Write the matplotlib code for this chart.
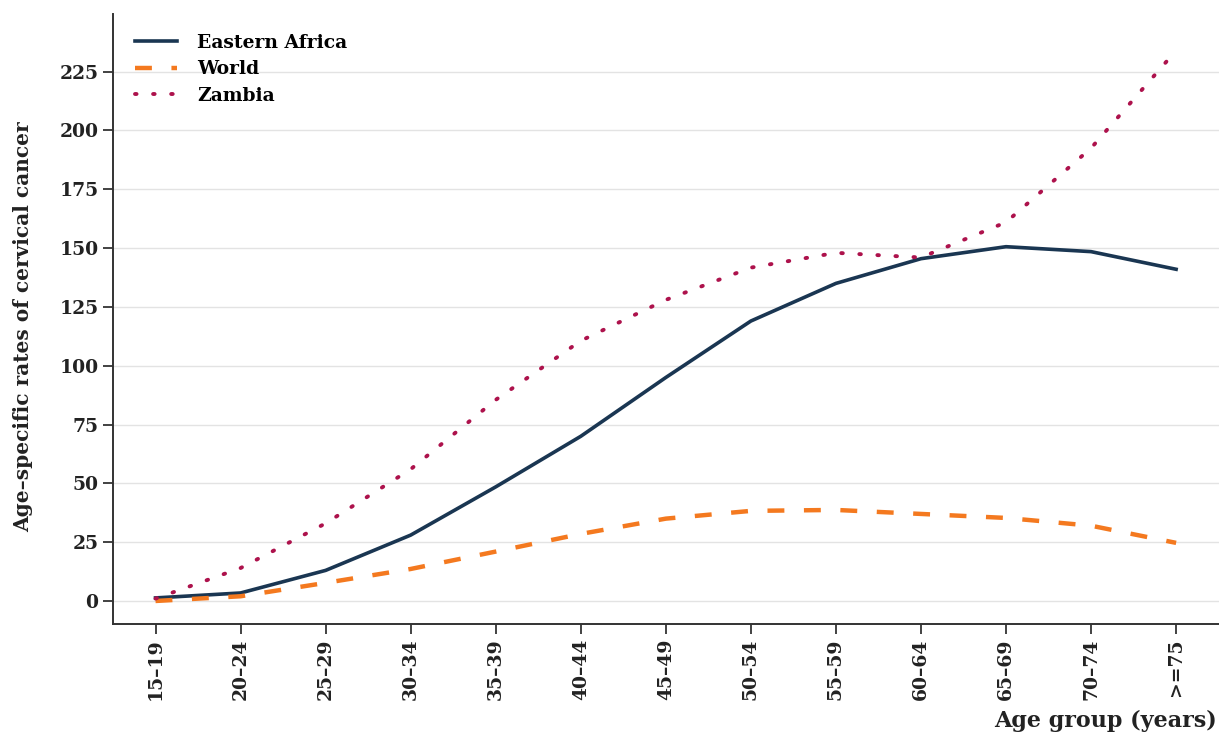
import matplotlib.pyplot as plt

# age groups and age-specific incidence rates (per 100,000)
age_groups = ["15–19", "20–24", "25–29", "30–34", "35–39", "40–44", "45–49",
              "50–54", "55–59", "60–64", "65–69", "70–74", ">=75"]
eastern_africa = [1.3, 3.4, 13, 28, 48.5, 70, 95, 119, 135, 145.5, 150.6, 148.5, 141]
world = [0, 2, 7.7, 13.6, 21, 28.5, 35, 38.3, 38.7, 37, 35.3, 32, 24.7]
zambia = [1, 14, 33, 56, 85.5, 110.6, 128, 141.7, 148, 146, 161, 192.5, 234]
y_ticks = [0, 25, 50, 75, 100, 125, 150, 175, 200, 225]

plt.rcParams['font.family'] = ['DejaVu Serif']
plt.rcParams['font.weight'] = 'bold'
plt.rcParams['axes.labelweight'] = 'bold'
txt = '#222222'

fig = plt.figure(figsize=(12.19, 7.46), dpi=100)
ax = fig.add_axes([0.0927, 0.1635, 0.907, 0.818])

x = list(range(len(age_groups)))
ax.plot(x, eastern_africa, color='#1a3652', lw=2.6, label='Eastern Africa', zorder=3)
ax.plot(x, world, color='#f4791f', lw=3.2, dashes=(3.8, 4.4), label='World', zorder=3)
ax.plot(x, zambia, color='#ad124c', lw=2.8, dashes=(0.4, 4.25), dash_capstyle='round',
        label='Zambia', zorder=3)

ax.set_xlim(-0.5, 12.5)
ax.set_ylim(-9.8, 249.6)
ax.set_yticks(y_ticks)
ax.set_xticks(x)
ax.set_xticklabels(age_groups, rotation=90, fontsize=13.5)
ax.tick_params(axis='y', labelsize=13.5, length=7, width=1.2, colors=txt)
ax.tick_params(axis='x', length=7, width=1.2, colors=txt)

ax.yaxis.grid(True, color='#e3e3e3', lw=1.0)
ax.set_axisbelow(True)
for side in ['top', 'right']:
    ax.spines[side].set_visible(False)
for side in ['left', 'bottom']:
    ax.spines[side].set_linewidth(1.4)
    ax.spines[side].set_color('#333333')

ax.set_ylabel('Age–specific rates of cervical cancer', fontsize=14.5, color=txt)
ax.yaxis.set_label_coords(-0.072, 0.488)
ax.set_xlabel('Age group (years)', fontsize=16, color=txt)
ax.xaxis.set_label_coords(0.998, -0.14)
ax.xaxis.label.set_horizontalalignment('right')

ax.legend(loc='upper left', bbox_to_anchor=(0.005, 0.995), frameon=False,
          handlelength=2.2, handletextpad=1.1, labelspacing=0.45,
          prop={'family': 'DejaVu Serif', 'weight': 'bold', 'size': 13.5})

fig.savefig('out.png', dpi=100)
